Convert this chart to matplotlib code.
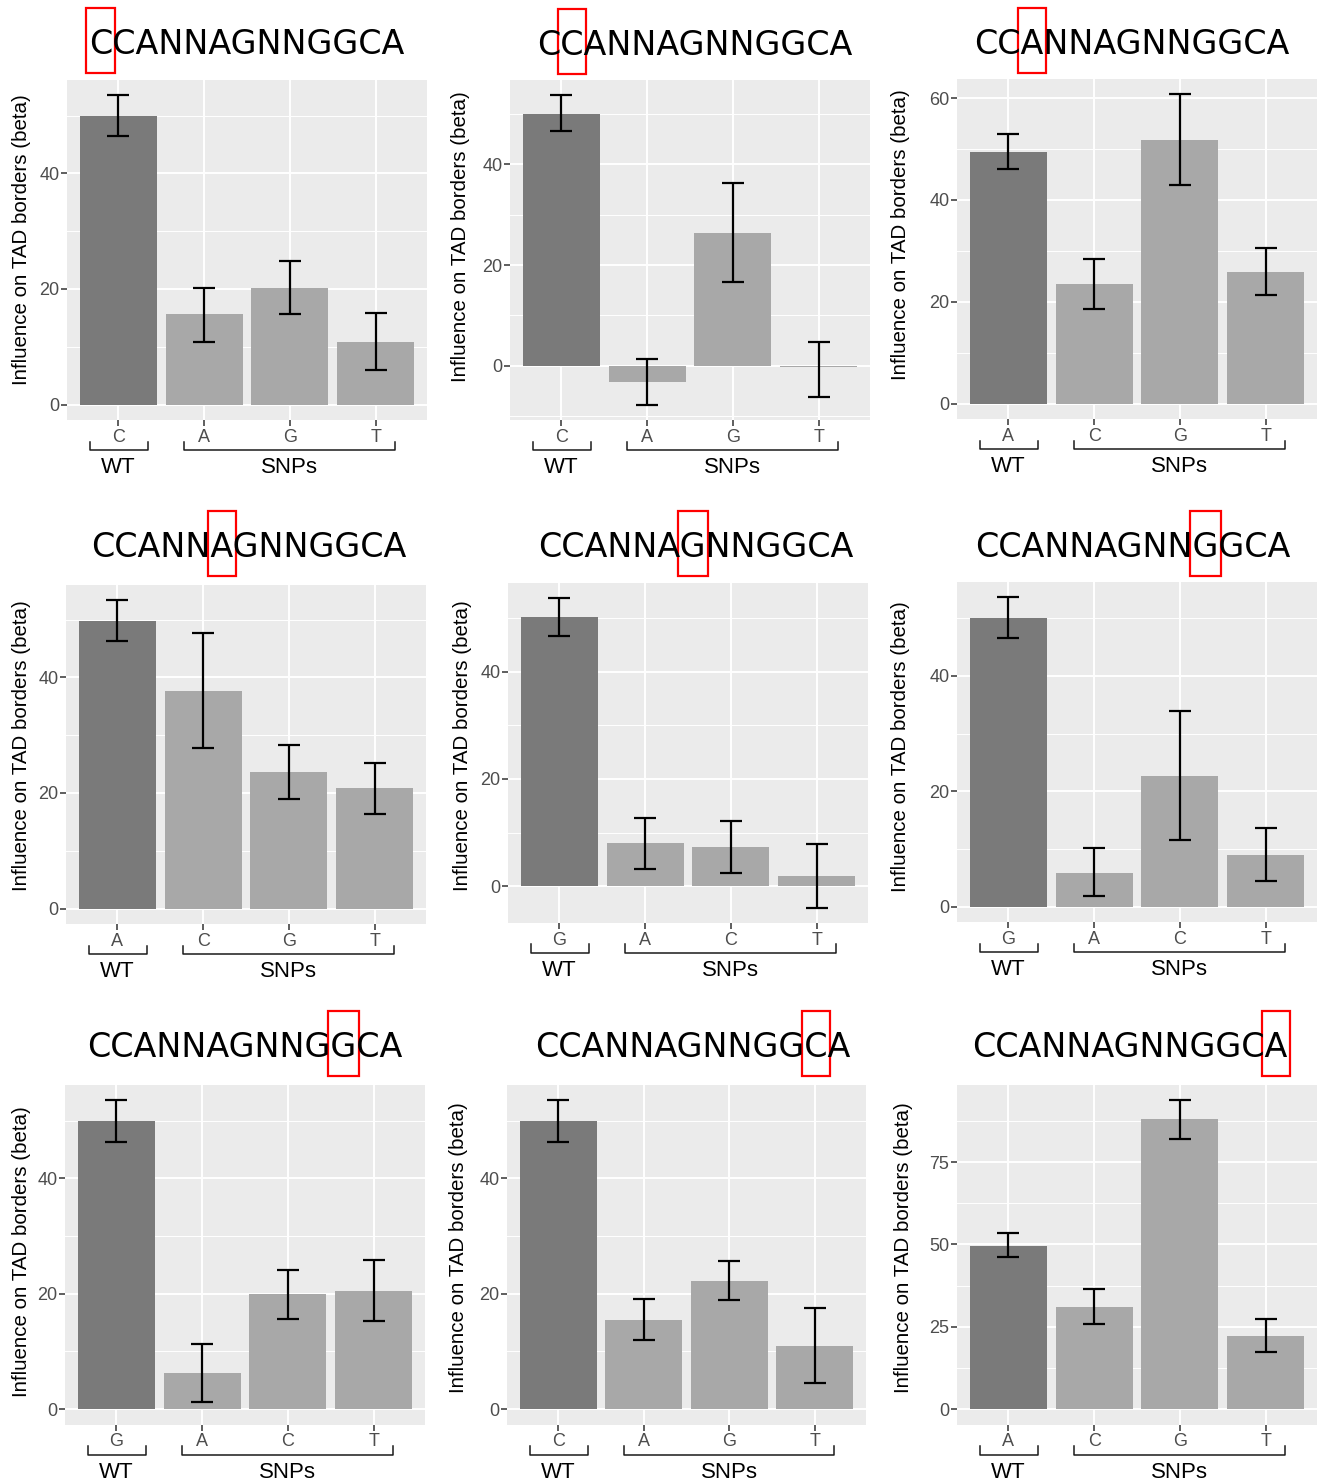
import numpy as np
import matplotlib
matplotlib.use("Agg")
import matplotlib.pyplot as plt
from matplotlib.patches import Rectangle
from matplotlib.ticker import MultipleLocator
import matplotlib.transforms as mtransforms

plt.rcParams['font.family'] = ['Liberation Sans', 'DejaVu Sans']

# ---------------- data ----------------
motif = "CCANNAGNNGGCA"
highlight = [0, 1, 2, 5, 6, 9, 10, 11, 12]

categories = [
    ["C", "A", "G", "T"],
    ["C", "A", "G", "T"],
    ["A", "C", "G", "T"],
    ["A", "C", "G", "T"],
    ["G", "A", "C", "T"],
    ["G", "A", "C", "T"],
    ["G", "A", "C", "T"],
    ["C", "A", "G", "T"],
    ["A", "C", "G", "T"],
]
beta = [
    [49.9, 15.6, 20.2, 10.9],
    [50.1, -3.2, 26.4, -0.3],
    [49.4, 23.4, 51.7, 25.9],
    [49.8, 37.7, 23.7, 20.8],
    [50.2, 8.0, 7.3, 1.9],
    [50.0, 5.9, 22.7, 9.0],
    [49.9, 6.2, 19.9, 20.5],
    [49.9, 15.5, 22.2, 10.9],
    [49.6, 31.0, 88.0, 22.2],
]
lower = [
    [46.4, 10.9, 15.6, 6.0],
    [46.6, -7.7, 16.6, -6.2],
    [46.0, 18.5, 42.9, 21.4],
    [46.3, 27.8, 18.9, 16.4],
    [46.6, 3.2, 2.5, -4.0],
    [46.6, 1.8, 11.6, 4.5],
    [46.3, 1.2, 15.7, 15.3],
    [46.3, 12.0, 18.9, 4.5],
    [46.1, 25.8, 82.1, 17.2],
]
upper = [
    [53.5, 20.2, 24.8, 15.9],
    [53.7, 1.3, 36.3, 4.8],
    [53.0, 28.4, 60.7, 30.6],
    [53.4, 47.7, 28.3, 25.2],
    [53.7, 12.8, 12.2, 7.9],
    [53.6, 10.1, 33.9, 13.7],
    [53.6, 11.3, 24.1, 25.9],
    [53.6, 19.0, 25.7, 17.5],
    [53.4, 36.5, 93.9, 27.5],
]
major_step = [20, 20, 20, 20, 20, 20, 20, 20, 25]
group_labels = ["WT", "SNPs"]
ylabel_text = "Influence on TAD borders (beta)"

# ---------------- layout (pixels) ----------------
W, H = 1321, 1481
plot_boxes = [(67, 80, 427, 420), (510, 80, 870, 420), (957, 79, 1317, 419),
              (66, 584.5, 426, 924), (508, 583, 868, 923), (957, 582, 1317, 922),
              (65, 1084.5, 425, 1424.5), (507, 1084.5, 866, 1424.5), (957, 1084.5, 1317, 1424.5)]
title_pos = [(246.5, 54), (694.5, 55), (1131.5, 54),
             (249, 557), (696, 557), (1133, 557),
             (245, 1057), (692.5, 1057), (1130, 1057)]
ylabel_pos = [(22, 240), (461, 237), (900, 235),
              (22, 746), (462, 746), (900, 747),
              (22, 1252), (459, 1248), (904, 1248)]

WT_COL = "#7A7A7A"
SNP_COL = "#A8A8A8"
BG = "#EBEBEB"
TICK_COL = "#4D4D4D"

fig = plt.figure(figsize=(W / 100, H / 100), dpi=100)

titles = []
for i in range(9):
    l, t, r, b = plot_boxes[i]
    ax = fig.add_axes([l / W, 1 - b / H, (r - l) / W, (b - t) / H])
    ax.set_facecolor(BG)
    for s in ax.spines.values():
        s.set_visible(False)
    x = np.arange(1, 5)
    vals = np.array(beta[i])
    lo = np.array(lower[i])
    hi = np.array(upper[i])
    cols = [WT_COL] + [SNP_COL] * 3
    ax.bar(x, vals, width=0.9, color=cols, zorder=2)
    ax.errorbar(x, vals, yerr=[vals - lo, hi - vals], fmt='none', ecolor='black',
                elinewidth=1.6, capsize=7.7, capthick=1.6, zorder=3)
    ymin = min(0, lo.min())
    ymax = max(0, hi.max())
    pad = 0.05 * (ymax - ymin)
    ax.set_ylim(ymin - pad, ymax + pad)
    ax.set_xlim(0.4, 4.6)
    ax.yaxis.set_major_locator(MultipleLocator(major_step[i]))
    ax.yaxis.set_minor_locator(MultipleLocator(major_step[i] / 2))
    ax.set_xticks(x)
    ax.set_xticklabels(categories[i])
    ax.grid(which='major', color='white', linewidth=1.4, zorder=0)
    ax.grid(which='minor', axis='y', color='white', linewidth=0.7, zorder=0)
    ax.set_axisbelow(True)
    ax.tick_params(axis='both', which='major', length=4.0, width=1.1, color='#333333',
                   labelcolor=TICK_COL, labelsize=13)
    ax.tick_params(axis='x', pad=2.2)
    ax.tick_params(axis='y', pad=1.5)
    ax.tick_params(which='minor', length=0)

    # brackets
    h = b - t
    tr = mtransforms.blended_transform_factory(ax.transData, ax.transAxes)
    y_top = -21.5 / h
    y_line = -30 / h
    for (x0, x1) in [(0.67, 1.35), (1.77, 4.23)]:
        ax.plot([x0, x0, x1, x1], [y_top, y_line, y_line, y_top], color='#1A1A1A',
                lw=1.1, transform=tr, clip_on=False)
    ax.text(1, -53 / h, group_labels[0], transform=tr, ha='center', va='baseline',
            fontsize=16, color='black')
    ax.text(3, -53 / h, group_labels[1], transform=tr, ha='center', va='baseline',
            fontsize=16, color='black')

    # ylabel
    yx, yy = ylabel_pos[i]
    fig.text(yx / W, 1 - yy / H, ylabel_text, rotation=90, ha='center', va='center',
             fontsize=14.8, color='black')

    # title
    tx, ty = title_pos[i]
    tt = fig.text(tx / W, 1 - ty / H, motif, ha='center', va='baseline',
                  fontsize=24, family='DejaVu Sans', color='black')
    titles.append(tt)

fig.canvas.draw()
renderer = fig.canvas.get_renderer()
for i, tt in enumerate(titles):
    bb = tt.get_window_extent(renderer)
    fp = tt.get_fontproperties()
    k = highlight[i]

    def wid(s):
        if not s:
            return 0.0
        return renderer.get_text_width_height_descent(s, fp, ismath=False)[0]

    xl = bb.x0 + wid(motif[:k])
    xr = bb.x0 + wid(motif[:k + 1])
    ty = title_pos[i][1]
    top_px = ty - 46
    bot_px = ty + 19
    x0 = xl - 2.5
    x1 = xr + 2.5
    rect = Rectangle((x0 / W, 1 - bot_px / H), (x1 - x0) / W, (bot_px - top_px) / H,
                     transform=fig.transFigure, fill=False, edgecolor='#FF0000', lw=1.6)
    fig.patches.append(rect)

fig.savefig("out.png", dpi=100)
